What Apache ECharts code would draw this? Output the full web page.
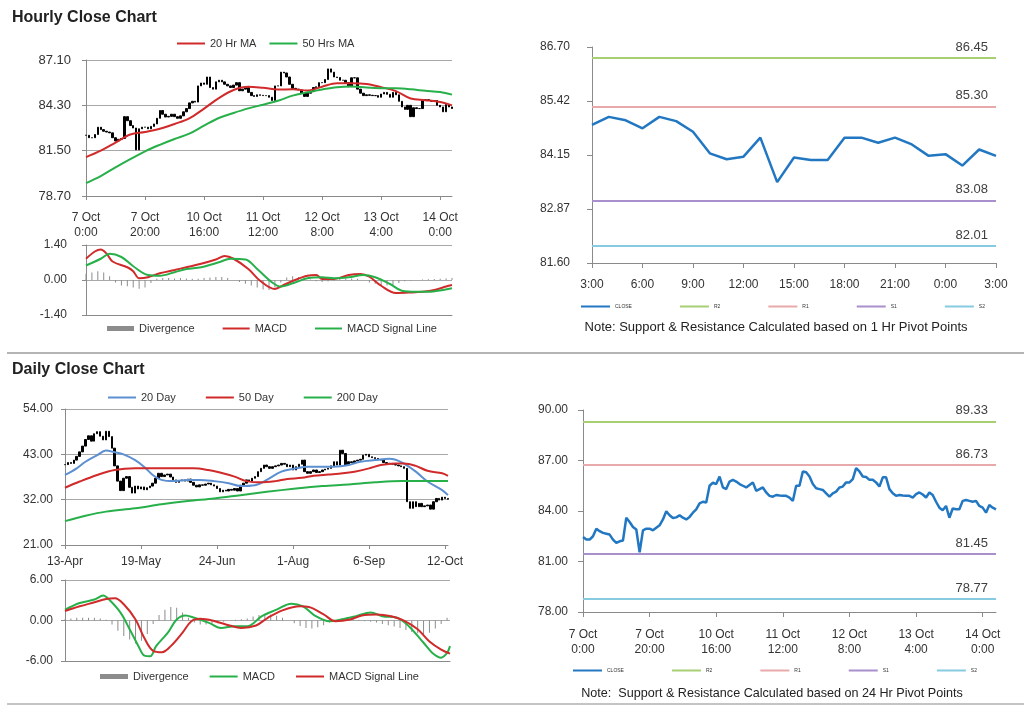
<!DOCTYPE html>
<html><head><meta charset="utf-8">
<script src="https://cdn.jsdelivr.net/npm/echarts@6/dist/echarts.min.js"></script>
<style>
html,body{margin:0;padding:0;background:#fff;width:1024px;height:706px;overflow:hidden;}
.q{position:absolute;}
.sep{position:absolute;left:7px;width:1017px;height:2px;background:#b4b4b4;}
</style></head><body>
<div id="a" class="q" style="left:0;top:0;width:512px;height:352px"></div>
<div id="b" class="q" style="left:512px;top:0;width:512px;height:352px"></div>
<div id="c" class="q" style="left:0;top:352px;width:512px;height:354px"></div>
<div id="d" class="q" style="left:512px;top:352px;width:512px;height:354px"></div>
<div class="sep" style="top:352px"></div>
<div class="sep" style="top:703px;background:#c4c4c4"></div>
<script>
// ---------------- DATA ----------------
const hourlyClose = [82.45,82.3,82.3,82.5,82.95,82.8,82.7,82.65,82.6,82.3,
82.1,82.2,82.25,83.6,83.35,83.05,82.9,81.55,82.85,82.95,
82.95,82.85,83.0,83.15,83.5,83.98,83.75,83.58,83.62,83.75,
83.6,83.5,83.65,83.9,84.1,84.45,84.55,84.5,85.5,85.68,
85.6,86.05,85.4,85.3,85.75,85.85,85.75,85.6,85.5,85.4,
85.55,85.7,85.2,85.3,85.4,85.1,84.9,84.85,84.95,84.92,
84.9,84.9,84.8,84.6,85.5,85.5,86.35,86.3,86.05,85.6,
85.35,85.3,85.25,85.05,84.85,85.05,85.15,85.4,85.45,85.7,
85.7,85.9,86.55,86.35,86.05,86.02,85.85,85.85,85.7,85.45,
86.0,86.0,85.3,85.05,84.9,84.95,84.92,84.9,84.9,84.8,
85.0,85.1,84.98,84.8,85.1,84.95,84.55,84.2,84.05,84.3,
83.6,84.15,84.1,84.1,84.6,84.65,84.6,84.55,84.6,84.3,
84.2,83.9,84.35,84.2,84.1];
const hourlyTickLabels = ['7 Oct\n0:00','7 Oct\n20:00','10 Oct\n16:00','11 Oct\n12:00','12 Oct\n8:00','13 Oct\n4:00','14 Oct\n0:00'];
const hourlyTickEvery = 20;
const ma20Hr = [[0,81.1],[5,81.5],[10,82.0],[15,82.5],[20,82.65],[25,82.85],[30,83.15],[35,83.5],[40,84.1],[45,84.75],[50,85.25],[55,85.45],[60,85.38],[65,85.28],[70,85.29],[75,85.22],[80,85.45],[85,85.66],[90,85.66],[95,85.62],[100,85.42],[105,85.18],[110,84.72],[115,84.62],[120,84.5],[124,84.3]];
const ma50Hr = [[0,79.5],[5,79.93],[10,80.47],[15,80.98],[20,81.46],[25,81.86],[30,82.22],[35,82.55],[40,83.05],[45,83.52],[50,83.83],[55,84.11],[60,84.34],[65,84.58],[70,84.9],[75,85.1],[80,85.28],[85,85.42],[90,85.46],[95,85.4],[100,85.36],[105,85.35],[110,85.29],[115,85.2],[120,85.12],[124,84.96]];
const hourlyMacd = [[0,0.85],[3,1.14],[5,1.22],[7,1.05],[9,0.74],[14,0.51],[16,0.35],[18,0.07],[21,0.11],[25,0.27],[30,0.4],[34,0.51],[39,0.65],[44,0.82],[47,0.96],[50,0.85],[55,0.44],[59,-0.03],[64,-0.36],[67,-0.2],[71,0.01],[75,0.17],[78,0.2],[80,0.04],[84,0.04],[89,0.2],[93,0.24],[96,0.13],[100,-0.23],[105,-0.52],[110,-0.5],[114,-0.47],[118,-0.4],[122,-0.26],[124,-0.2]];
const hourlySignal = [[0,0.58],[5,0.85],[8,1.05],[12,0.92],[16,0.55],[21,0.2],[25,0.17],[30,0.31],[34,0.44],[39,0.51],[45,0.71],[49,0.85],[54,0.82],[58,0.44],[63,-0.09],[66,-0.26],[71,-0.09],[75,0.07],[80,0.11],[84,0.07],[89,0.11],[94,0.2],[98,0.11],[103,-0.16],[107,-0.43],[112,-0.47],[116,-0.47],[121,-0.4],[124,-0.33]];
// divergence every 2nd hour, starting at index 0
const hourlyDivergence = [0.25,0.3,0.35,0.3,0.15,-0.1,-0.22,-0.25,-0.3,-0.35,-0.3,-0.12,0.05,0.08,0.08,0.06,0.08,0.06,0.05,0.05,
0.08,0.1,0.12,0.12,0.08,0.0,-0.08,-0.15,-0.22,-0.3,-0.38,-0.4,-0.3,-0.1,0.1,0.15,0.12,0.08,0.02,-0.05,
-0.08,-0.06,-0.02,0.04,0.05,0.06,0.05,0.0,-0.1,-0.15,-0.2,-0.22,-0.2,-0.12,-0.05,-0.02,0.0,0.02,0.03,0.04,
0.05,0.06,0.08];

const pivotHours = ['3:00','4:00','5:00','6:00','7:00','8:00','9:00','10:00','11:00','12:00','13:00','14:00','15:00','16:00','17:00','18:00','19:00','20:00','21:00','22:00','23:00','0:00','1:00','2:00','3:00'];
const pivotClose1h = [84.86,85.05,84.97,84.78,85.05,84.95,84.7,84.19,84.05,84.11,84.56,83.51,84.09,84.03,84.03,84.56,84.56,84.44,84.56,84.4,84.13,84.17,83.9,84.28,84.13];
const pivotNames = ['R2','R1','S1','S2'];
const pivot1hLevels = [86.45,85.30,83.08,82.01];
const pivot24hLevels = [89.33,86.73,81.45,78.77];

const dailyClose = [40.5,41.0,40.8,41.6,42.5,43.6,45.0,46.6,47.5,46.2,
48.0,48.5,47.4,46.5,48.6,47.3,44.5,40.2,36.5,34.2,
37.2,37.6,35.0,33.6,35.3,34.6,35.1,34.4,34.9,35.3,
36.0,37.2,38.4,37.6,38.0,38.2,37.5,36.8,36.2,36.6,
36.8,36.5,37.0,36.2,35.5,35.1,35.6,35.5,35.8,36.0,
35.6,35.3,34.7,33.9,34.3,34.1,34.5,34.3,34.7,34.1,
35.5,36.0,36.8,36.5,37.2,37.6,38.8,39.6,40.4,40.0,
39.6,40.0,40.2,40.4,40.8,40.6,40.0,40.4,39.2,40.0,
40.6,41.6,38.8,38.4,38.8,39.2,38.6,38.8,39.2,39.4,
39.6,40.2,41.2,40.4,44.0,43.2,40.4,41.2,41.0,41.4,
41.6,41.8,42.8,43.0,42.4,42.2,42.0,41.8,41.6,41.0,
40.8,40.8,40.6,40.4,40.2,40.0,39.6,31.5,29.9,31.5,
30.3,31.1,30.3,30.5,30.7,29.7,31.5,32.3,31.9,32.6,
32.3,32.1];
const dailyTickLabels = ['13-Apr','19-May','24-Jun','1-Aug','6-Sep','12-Oct'];
const dailyTickEvery = 26;
const ma20Day = [[0,38.0],[4,39.6],[7,41.2],[11,42.8],[14,43.9],[17,43.5],[20,43.0],[24,41.6],[27,40.0],[30,38.0],[33,36.8],[37,36.5],[42,36.8],[46,36.8],[51,36.5],[56,36.0],[60,35.3],[65,35.5],[69,36.8],[74,38.8],[79,39.6],[83,40.0],[88,40.0],[92,40.0],[97,40.4],[101,41.2],[106,41.6],[111,41.9],[115,41.1],[120,38.8],[124,36.4],[129,34.3],[131,33.1]];
const ma50Day = [[0,34.9],[5,36.4],[11,38.0],[17,39.2],[24,39.6],[30,39.6],[37,39.6],[44,39.6],[49,39.2],[53,38.6],[58,37.6],[62,36.5],[67,36.2],[72,36.5],[76,37.0],[81,37.3],[85,37.8],[90,38.1],[95,38.4],[99,38.8],[104,39.6],[108,40.4],[113,40.8],[116,40.8],[120,40.2],[124,39.0],[129,38.4],[131,37.8]];
const ma200Day = [[0,26.8],[7,28.1],[14,29.1],[24,29.9],[33,30.9],[42,31.7],[51,32.3],[60,33.1],[69,33.9],[79,34.7],[88,35.3],[97,35.7],[106,36.2],[115,36.5],[124,36.5],[131,36.5]];
const dailyMacd = [[0,1.6],[5,2.6],[10,3.1],[13,3.7],[15,3.1],[19,1.1],[22,-1.3],[25,-3.8],[27,-5.2],[29,-5.3],[31,-3.8],[35,-1.8],[38,0.15],[41,0.74],[44,0.4],[49,-0.35],[53,-1.1],[58,-0.84],[62,-0.84],[67,0.64],[72,1.6],[77,2.5],[81,2.1],[85,0.74],[90,-0.1],[94,0.15],[99,0.64],[104,1.2],[108,0.64],[113,0.4],[117,-0.84],[122,-3.3],[125,-4.8],[128,-5.5],[130,-4.8],[131,-3.8]];
const dailySignal = [[0,1.4],[5,2.1],[10,2.7],[14,3.2],[17,3.3],[20,2.4],[24,0.15],[27,-2.6],[30,-4.5],[33,-4.7],[36,-3.8],[40,-1.8],[43,-0.1],[46,0.25],[51,-0.1],[56,-0.74],[60,-1.1],[65,-0.74],[69,0.4],[74,1.5],[80,2.1],[83,2.0],[88,0.9],[92,-0.1],[97,0.15],[101,0.74],[106,0.9],[111,0.64],[115,0.05],[120,-1.3],[124,-3.1],[128,-4.3],[131,-4.9]];
// divergence every 2nd day, starting at index 0
const dailyDivergence = [0.2,0.3,0.4,0.4,0.4,0.4,0.3,0.1,-0.6,-1.5,-2.3,-2.8,-3.4,-3.0,-2.0,-0.5,0.8,1.6,2.0,1.9,
1.2,0.4,-0.3,-0.6,-0.6,-0.5,-0.4,-0.2,0.0,0.1,0.2,0.3,0.6,0.8,1.0,0.9,0.7,0.4,0.0,-0.4,
-0.8,-1.1,-1.2,-1.0,-0.7,-0.3,0.0,0.3,0.5,0.3,0.1,-0.1,-0.2,-0.3,-0.5,-0.7,-0.9,-1.1,-1.4,-1.7,
-1.9,-2.0,-1.8,-1.2,-0.5,0.4];

// ---------------- STYLE ----------------
const FONT = "'Liberation Sans', Arial, sans-serif";
const TXT = '#333';
const AXC = '#8a8a8a';
const GRIDC = '#a8a8a8';
const RED = '#d02a2a', GREEN = '#27b04a', BLUE20 = '#5b8fd0', CLOSEBLUE = '#2277c2', GREY = '#8c8c8c';
const pivotColors = ['#a9cf74','#e8a9aa','#a98fcb','#86cbe0'];

function ohlc(close){ return close.map((c,i)=>{ const o = i ? close[i-1] : c; return [o, c, Math.min(o,c), Math.max(o,c)]; }); }
function every(arr, step){ return arr.map((v,i)=>[i*step, v]); }
const fmt2 = v => (Math.floor(v*100 + 1e-7)/100).toFixed(2);
const hourCats = hourlyClose.map((_,i)=>String(i));
const dayCats = dailyClose.map((_,i)=>String(i));
const hTick = i => i % hourlyTickEvery === 0;
const dTick = i => i % dailyTickEvery === 0;

function valAxis(grid, min, max, interval, margin, opts){
  return Object.assign({gridIndex:grid, type:'value', min, max, interval,
    axisLine:{show:true, lineStyle:{color:AXC}},
    axisTick:{show:true, length:4, lineStyle:{color:AXC}},
    splitLine:{show:true, lineStyle:{color:GRIDC}},
    axisLabel:{formatter:v=>v.toFixed(2), fontSize:12, color:TXT, margin}}, opts||{});
}
function lineS(name, data, color, x, y, w, smooth){
  return {name, type:'line', data, xAxisIndex:x, yAxisIndex:y, symbol:'none', showSymbol:false,
    smooth: smooth===undefined?0.35:smooth, lineStyle:{color, width:w||2}, itemStyle:{color}, z:3};
}
function candles(close, x, y){
  return {type:'candlestick', data:ohlc(close), xAxisIndex:x, yAxisIndex:y, barWidth:2,
    itemStyle:{color:'#000', color0:'#000', borderColor:'#000', borderColor0:'#000', borderWidth:1}, z:2};
}
function divBars(name, data, x, y){
  return {name, type:'bar', data, xAxisIndex:x, yAxisIndex:y, barWidth:1, itemStyle:{color:GREY}, z:1};
}
function legendCfg(data, left, top, gap, w, h, size){
  return {data, left, top, padding:0, itemGap:gap, itemWidth:w, itemHeight:h, selectedMode:false,
    itemStyle:{opacity:0},
    textStyle:{fontSize:size, color:TXT, fontFamily:FONT}};
}
const divLegendItem = {name:'Divergence', icon:'rect', itemStyle:{opacity:1, color:GREY}};

// ---------------- A: Hourly ----------------
const chartA = echarts.init(document.getElementById('a'), null, {renderer:'canvas'});
chartA.setOption({
  animation:false, textStyle:{fontFamily:FONT},
  title:{text:'Hourly Close Chart', left:12, top:10, padding:0, textStyle:{fontSize:16, fontWeight:'bold', color:'#222', fontFamily:FONT}},
  legend:[
    legendCfg(['20 Hr MA','50 Hrs MA'], 176, 38, 12, 28, 8, 11),
    legendCfg([divLegendItem,'MACD','MACD Signal Line'], 107, 323, 27, 27, 5, 11)
  ],
  grid:[{left:86, top:60, width:366, height:136},{left:86, top:245, width:366, height:70}],
  xAxis:[
    {gridIndex:0, type:'category', data:hourCats, boundaryGap:false,
     axisLine:{lineStyle:{color:AXC}}, axisTick:{interval:hTick, length:4, lineStyle:{color:AXC}},
     axisLabel:{interval:hTick, formatter:(v,i)=>hourlyTickLabels[i/hourlyTickEvery], fontSize:12, lineHeight:15, color:TXT, margin:14}},
    {gridIndex:1, type:'category', data:hourCats, boundaryGap:false,
     axisLine:{onZero:false, lineStyle:{color:AXC}}, axisTick:{show:false}, axisLabel:{show:false}}
  ],
  yAxis:[
    valAxis(0, 78.7, 87.1, 2.8, 15, {axisLabel:{formatter:fmt2, fontSize:13, color:TXT, margin:15}}),
    valAxis(1, -1.4, 1.4, 1.4, 19)
  ],
  series:[
    candles(hourlyClose, 0, 0),
    lineS('20 Hr MA', ma20Hr, RED, 0, 0, 2),
    lineS('50 Hrs MA', ma50Hr, GREEN, 0, 0, 2),
    divBars('Divergence', every(hourlyDivergence, 2), 1, 1),
    lineS('MACD', hourlyMacd, RED, 1, 1, 2),
    lineS('MACD Signal Line', hourlySignal, GREEN, 1, 1, 2)
  ]
});

// ---------------- Pivot charts ----------------
function pivotChart(el, cats, close, levels, yMin, yMax, yInt, grid, xLabel, legendLeft, legendTop, note, noteX, noteY, noteSize, xLabelInterval, xLabelFmt, yMargin, lineH){
  const ch = echarts.init(document.getElementById(el), null, {renderer:'canvas'});
  const series = [{name:'CLOSE', type:'line', data:close, symbol:'none', showSymbol:false,
    lineStyle:{color:CLOSEBLUE, width:2.5}, itemStyle:{color:CLOSEBLUE}, z:4}];
  pivotNames.forEach((n,k)=>{
    series.push({name:n, type:'line', data:[], symbol:'none', lineStyle:{color:pivotColors[k], width:2}, itemStyle:{color:pivotColors[k]},
      markLine:{silent:true, symbol:'none', animation:false,
        lineStyle:{color:pivotColors[k], width:2, type:'solid'},
        label:{show:true, position:'insideEndTop', distance:[8,4], formatter:()=>levels[k].toFixed(2), fontSize:13, color:'#404040', fontFamily:FONT},
        data:[{yAxis:levels[k]}]}});
  });
  ch.setOption({
    animation:false, textStyle:{fontFamily:FONT},
    legend: legendCfg(['CLOSE'].concat(pivotNames), legendLeft, legendTop, 47, 29, 6, 5),
    grid:grid,
    xAxis:{type:'category', data:cats, boundaryGap:false,
      axisLine:{lineStyle:{color:AXC}}, axisTick:{interval:xLabelInterval, length:5, lineStyle:{color:AXC}},
      axisLabel:{interval:xLabelInterval, formatter:xLabelFmt, fontSize:12, lineHeight:lineH, color:TXT, margin:xLabel}},
    yAxis:{type:'value', min:yMin, max:yMax, interval:yInt,
      axisLine:{show:true, lineStyle:{color:AXC}}, axisTick:{show:true, length:5, lineStyle:{color:AXC}},
      splitLine:{show:false}, axisLabel:{formatter:fmt2, fontSize:12, color:TXT, margin:yMargin}},
    graphic:[{type:'text', x:noteX, y:noteY, style:{text:note, fontSize:noteSize, fill:'#222', fontFamily:FONT, textAlign:'center', textVerticalAlign:'middle'}}],
    series
  });
  return ch;
}
pivotChart('b', pivotHours, pivotClose1h, pivot1hLevels, 81.6, 86.7, 1.275,
  {left:80, top:47, width:404, height:216}, 15, 68, 304,
  'Note: Support & Resistance Calculated based on 1 Hr Pivot Points', 264, 327, 13,
  i => i % 3 === 0, v => v, 22, 14);
pivotChart('d', hourCats, hourlyClose, pivot24hLevels, 78, 90, 3,
  {left:71, top:58, width:413, height:202}, 15, 60, 316,
  'Note:  Support & Resistance Calculated based on 24 Hr Pivot Points', 260, 342, 12.6,
  hTick, (v,i)=>hourlyTickLabels[i/hourlyTickEvery], 15, 15);

// ---------------- C: Daily ----------------
const chartC = echarts.init(document.getElementById('c'), null, {renderer:'canvas'});
chartC.setOption({
  animation:false, textStyle:{fontFamily:FONT},
  title:{text:'Daily Close Chart', left:12, top:10, padding:0, textStyle:{fontSize:16, fontWeight:'bold', color:'#222', fontFamily:FONT}},
  legend:[
    legendCfg(['20 Day','50 Day','200 Day'], 107, 40, 29, 28, 8, 11),
    legendCfg([divLegendItem,'MACD','MACD Signal Line'], 100, 319, 20, 28, 5, 11)
  ],
  grid:[{left:65, top:57, width:383, height:136},{left:65, top:228, width:385, height:81}],
  xAxis:[
    {gridIndex:0, type:'category', data:dayCats, boundaryGap:false,
     axisLine:{lineStyle:{color:AXC}}, axisTick:{interval:dTick, length:4, lineStyle:{color:AXC}},
     axisLabel:{interval:dTick, formatter:(v,i)=>dailyTickLabels[i/dailyTickEvery], fontSize:12, color:TXT, margin:11}},
    {gridIndex:1, type:'category', data:dayCats, boundaryGap:false,
     axisLine:{onZero:false, lineStyle:{color:AXC}}, axisTick:{show:false}, axisLabel:{show:false}}
  ],
  yAxis:[ valAxis(0, 21, 54, 11, 12), valAxis(1, -6, 6, 6, 12) ],
  series:[
    candles(dailyClose, 0, 0),
    lineS('20 Day', ma20Day, BLUE20, 0, 0, 2),
    lineS('50 Day', ma50Day, RED, 0, 0, 2),
    lineS('200 Day', ma200Day, GREEN, 0, 0, 2),
    divBars('Divergence', every(dailyDivergence, 2), 1, 1),
    lineS('MACD', dailyMacd, GREEN, 1, 1, 2),
    lineS('MACD Signal Line', dailySignal, RED, 1, 1, 2)
  ]
});
</script>
</body></html>
